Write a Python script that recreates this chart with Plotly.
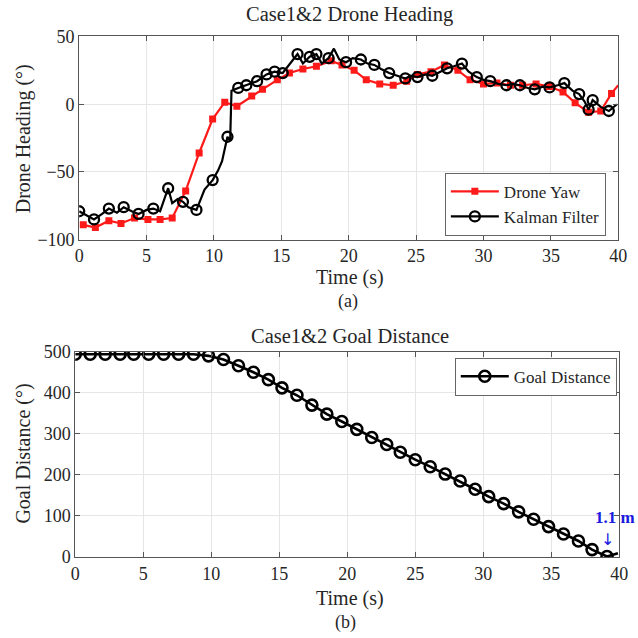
import plotly.graph_objects as go

# ---- (a) drone heading ----
yaw_t = [0.3, 1.2, 2.2, 3.1, 4.1, 5.1, 6.0, 6.9, 7.9, 8.9, 9.9, 10.8, 11.7, 12.8, 13.6,
         14.7, 15.6, 16.6, 17.6, 18.7, 19.5, 20.4, 21.3, 22.3, 23.3, 24.3, 25.1, 26.1,
         27.1, 28.1, 29.0, 30.0, 31.0, 32.0, 32.9, 33.9, 34.9, 35.9, 36.8, 37.8, 38.7,
         39.5, 40.0]
yaw_deg = [-89, -91, -86, -88, -84, -85, -85, -84, -64, -36, -11, 1.5, -1.5, 6, 11,
           18, 23, 26, 28, 32, 29, 25, 18, 15, 14, 17, 22, 24,
           29, 25, 18, 15, 15.6, 14, 14, 15, 13, 9, 1, -6, -5,
           8, 14]
yaw_mark = [1] * (len(yaw_t) - 1) + [0]

kf_t = [0.0, 0.6, 1.1, 1.7, 2.2, 2.8, 3.3, 3.9, 4.4, 5.0, 5.5, 6.0, 6.6, 6.9, 7.3,
        7.7, 8.1, 8.7, 9.3, 9.9, 10.3, 10.6, 11.0, 11.2, 11.3, 11.8, 12.4, 13.2,
        13.9, 14.5, 15.1, 15.6, 16.2, 16.6, 17.1, 17.6, 18.0, 18.5, 18.9, 19.3, 19.8,
        20.3, 20.9, 21.4, 21.9, 22.4, 23.0, 23.6, 24.2, 24.6, 25.1, 25.7, 26.2, 26.8,
        27.3, 27.8, 28.4, 28.9, 29.5, 30.0, 30.5, 31.1, 31.7, 32.2, 32.7, 33.3, 33.8,
        34.4, 34.9, 35.5, 36.0, 36.6, 37.1, 37.5, 37.8, 38.1, 38.7, 39.3, 39.9]
kf_deg = [-79, -82, -85, -81, -77, -80, -76, -79, -81, -78, -77, -79, -62, -73, -70,
          -72, -76, -78, -63, -56, -49, -42, -24, -27, 10, 12, 14, 17,
          22, 24, 23, 29, 37, 30, 35, 37, 30, 34, 41, 33, 31,
          34, 33, 30, 29, 26, 23, 21, 19, 21, 20, 22, 21, 24,
          26.5, 28, 30, 24, 20, 18, 17, 15, 14, 15, 14, 12, 11,
          13, 12.4, 14, 15.6, 10, 7.5, 2, -4, 3, -2, -5, 0]
kf_mark = [1, 0, 1, 0, 1, 0, 1, 0, 1, 0, 1, 0, 1, 0, 0,
           1, 0, 1, 0, 1, 0, 0, 1, 0, 0, 1, 1, 1,
           1, 1, 1, 0, 1, 0, 1, 1, 0, 1, 0, 0, 1,
           0, 1, 0, 1, 0, 1, 0, 1, 0, 1, 0, 1, 0,
           1, 0, 1, 0, 1, 0, 1, 0, 1, 0, 1, 0, 1,
           0, 1, 0, 1, 0, 1, 0, 1, 1, 0, 1, 0]

# ---- (b) goal distance ----
goal_t = [0.0, 1.1, 2.2, 3.3, 4.3, 5.4, 6.5, 7.6, 8.7, 9.8, 10.9, 12.0, 13.1, 14.2,
          15.2, 16.3, 17.4, 18.5, 19.6, 20.7, 21.8, 22.9, 23.9, 25.0, 26.1, 27.2,
          28.3, 29.4, 30.4, 31.5, 32.6, 33.7, 34.8, 35.9, 37.0, 38.0, 39.1, 39.9]
goal_m = [494, 494, 494, 494, 494, 494, 494, 494, 494, 490, 481, 466, 450, 432,
          412, 394, 370, 348, 330, 311, 291, 274, 255, 237, 220, 202,
          185, 165, 147, 130, 110, 92, 74, 56, 39, 18, 1.1, 9]
goal_mark = [1] * (len(goal_t) - 1) + [0]

x_ticks = [0, 5, 10, 15, 20, 25, 30, 35, 40]
head_ticks = [-100, -50, 0, 50]
dist_ticks = [0, 100, 200, 300, 400, 500]

SERIF = "Liberation Serif"
TXT = "#262626"
W = H = 638

# window pixel -> paper fraction (the paper is drawn slightly inset in the window)
X_OFF, X_SCL = 1.1, 0.9886
Y_OFF, Y_SCL = 7.3, 0.977


def px_x(p):
    return ((p - X_OFF) / X_SCL) / W


def px_y(p):
    return 1 - ((p - Y_OFF) / Y_SCL) / H


def pick(vals, flags):
    return [v for v, f in zip(vals, flags) if f]


fig = go.Figure()


def add_series(t, v, flags, name, color, marker, xa, ya, leg, lw=2.2):
    # continuous line
    fig.add_trace(go.Scatter(x=t, y=v, mode="lines", line=dict(color=color, width=lw),
                             showlegend=False, hoverinfo="skip", xaxis=xa, yaxis=ya))
    # marked samples
    fig.add_trace(go.Scatter(x=pick(t, flags), y=pick(v, flags), mode="markers",
                             marker=marker, showlegend=False, xaxis=xa, yaxis=ya))
    # legend entry
    fig.add_trace(go.Scatter(x=[None], y=[None], mode="lines+markers", name=name,
                             line=dict(color=color, width=lw), marker=marker,
                             xaxis=xa, yaxis=ya, legend=leg))


add_series(yaw_t, yaw_deg, yaw_mark, "Drone Yaw", "#ff1a1a",
           dict(symbol="square", size=7, color="#ff1a1a", line=dict(width=0)),
           "x", "y", "legend")
add_series(kf_t, kf_deg, kf_mark, "Kalman Filter", "black",
           dict(symbol="circle-open", size=10, color="black", line=dict(width=2.3)),
           "x", "y", "legend")
add_series(goal_t, goal_m, goal_mark, "Goal Distance", "black",
           dict(symbol="circle-open", size=11, color="black", line=dict(width=2.6)),
           "x2", "y2", "legend2", lw=2.6)

axis_common = dict(
    showline=True, linecolor="#555555", linewidth=1, mirror="ticks",
    ticks="inside", ticklen=5, tickcolor="#555555",
    showgrid=True, gridcolor="#e6e6e6", gridwidth=1, zeroline=False,
    ticklabeloverflow="allow",
    tickfont=dict(family=SERIF, size=18, color=TXT),
)

fig.update_layout(
    width=W, height=H, margin=dict(l=0, r=0, t=0, b=0),
    paper_bgcolor="white", plot_bgcolor="white",
    showlegend=True,
    xaxis=dict(domain=[px_x(77), px_x(621)], range=[0, 40], tickvals=x_ticks,
               anchor="y", **axis_common),
    yaxis=dict(domain=[px_y(239), px_y(34)], range=[-100, 50], tickvals=head_ticks,
               anchor="x", **axis_common),
    xaxis2=dict(domain=[px_x(73), px_x(622)], range=[0, 40], tickvals=x_ticks,
                anchor="y2", **axis_common),
    yaxis2=dict(domain=[px_y(559), px_y(352)], range=[0, 500], tickvals=dist_ticks,
                anchor="x2", **axis_common),
    legend=dict(x=px_x(446), y=px_y(235), xanchor="left", yanchor="bottom",
                bgcolor="white", bordercolor="#666666", borderwidth=1,
                font=dict(family=SERIF, size=17, color=TXT),
                tracegroupgap=0, itemwidth=48),
    legend2=dict(x=px_x(456), y=px_y(358), xanchor="left", yanchor="top",
                 bgcolor="white", bordercolor="#666666", borderwidth=1,
                 font=dict(family=SERIF, size=17, color=TXT),
                 itemwidth=48),
)

texts = [
    ("Case1&2 Drone Heading", 350, 12, 20.5, 0),
    ("Time (s)", 350, 277, 20, 0),
    ("(a)", 348, 301, 18, 0),
    ("Drone Heading (°)", 21, 137, 20, -90),
    ("Case1&2 Goal Distance", 350, 336, 20.5, 0),
    ("Time (s)", 350, 601, 20, 0),
    ("(b)", 346, 625, 18, 0),
    ("Goal Distance (°)", 21, 455, 20, -90),
]
for txt, xp, yp, sz, ang in texts:
    fig.add_annotation(text=txt, x=px_x(xp), y=px_y(yp), xref="paper", yref="paper",
                       xanchor="center", yanchor="middle", showarrow=False,
                       textangle=ang, font=dict(family=SERIF, size=sz, color=TXT))

# final-distance callout near the end of the run
fig.add_annotation(text="<b>1.1 m</b>", x=px_x(596), y=px_y(519), xref="paper", yref="paper",
                   xanchor="left", yanchor="middle", showarrow=False,
                   font=dict(family=SERIF, size=17, color="#1a1ae0"))
fig.add_annotation(text="↓", x=goal_t[-2], y=goal_m[-2], xref="x2", yref="y2",
                   xanchor="center", yanchor="bottom", yshift=6, showarrow=False,
                   font=dict(family="DejaVu Sans", size=16, color="#1a1ae0"))

fig.write_html("out.html")
